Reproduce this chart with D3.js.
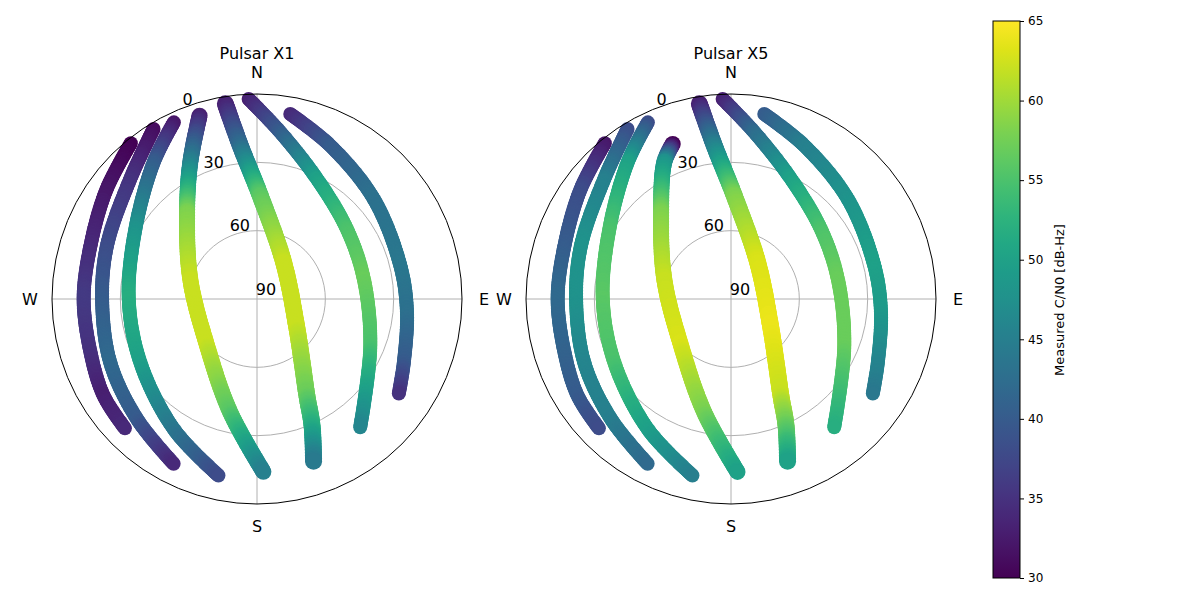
<!DOCTYPE html>
<html><head><meta charset="utf-8">
<script src="https://cdn.jsdelivr.net/npm/d3@7"></script>
<style>body{margin:0;background:#fff}svg{font-family:"DejaVu Sans",sans-serif}</style>
</head><body>
<svg id="chart" width="1200" height="600"></svg>
<script>
// track geometry: [azimuth deg, elevation deg]
var trackAzEl = [
  [[321,2],[306,8.3],[288,13.2],[270,13.9],[252,13.2],[237.8,10.4],[225.4,8.8]],
  [[328.7,2.6],[313.4,13.4],[289.6,20.1],[270,22],[246.7,19.8],[225,15.5],[206.8,8.9]],
  [[334.8,4.3],[322.9,14.8],[299.9,28.4],[270,33.7],[241.5,31.7],[212.6,22.2],[192.2,10.6]],
  [[342.6,5.7],[334,23.2],[321.1,41.1],[286.7,59.4],[227,60],[193.3,38.9],[177.8,13.9]],
  [[350.8,3.2],[353.8,22.3],[1.8,44.6],[36,70.1],[126.9,68],[152.7,42.2],[156.5,29.4],[160.9,14.1]],
  [[357.6,2.1],[8,16.1],[26.6,31.1],[52.1,40],[79.4,42.3],[112.4,36.2],[141.2,17.7]],
  [[10.2,7.5],[25.6,15.4],[49.4,22.5],[76.9,25.4],[95.1,23.9],[113.3,19.8],[123.8,15.1]]
];
// X5 track 4 rises later
var x5Track4 = [[339.4,17.3],[334,23.2],[321.1,41.1],[286.7,59.4],[227,60],[193.3,38.9],[177.8,13.9]];
// marker radius per track (overlapping passes look thicker)
var trackWidth = [7, 7, 7, 8, 8.5, 7, 7];

var cn0X1 = [
  [30,32,34,36,35,33,34],
  [31,35,38,40,42,40,34],
  [32,40,48,52,50,44,38],
  [33,45,58,62,62,56,45],
  [33,42,56,62,62,57,52,44],
  [33,40,50,55,57,55,46],
  [34,40,43,44,43,40,35]
];
var cn0X5 = [
  [32,38,40,42,41,40,38],
  [38,45,48,48,46,45,42],
  [38,50,55,56,55,50,45],
  [30,48,58,62,63,58,50],
  [33,45,58,63,64,62,57,50],
  [33,42,50,55,57,57,52],
  [40,45,48,50,49,46,44]
];
var titles = ["Pulsar X1", "Pulsar X5"];
var elevTicks = [0, 30, 60, 90];
var dirs = [["N",0],["E",90],["S",180],["W",270]];
var cbTicks = [30,35,40,45,50,55,60,65];

var svg = d3.select("#chart");
var R = 205;
var r = d3.scaleLinear().domain([90, 0]).range([0, R]);
var color = d3.scaleSequential(d3.interpolateViridis).domain([30, 65]);

function xy(az, el) {
  var a = az * Math.PI / 180;
  return [r(el) * Math.sin(a), -r(el) * Math.cos(a)];
}

function drawPolar(cx, title, tracks, cn0) {
  var g = svg.append("g").attr("transform", "translate(" + cx + ",299)");
  [30, 60].forEach(function(e) {
    g.append("circle").attr("r", r(e)).attr("fill", "none").attr("stroke", "#b0b0b0").attr("stroke-width", 1);
  });
  g.append("line").attr("x1", -R).attr("x2", R).attr("stroke", "#b0b0b0");
  g.append("line").attr("y1", -R).attr("y2", R).attr("stroke", "#b0b0b0");

  var line = d3.line().curve(d3.curveCatmullRom.alpha(0.5));
  tracks.forEach(function(t, i) {
    var pts = t.map(function(d) { return xy(d[0], d[1]); });
    var p = g.append("path").attr("d", line(pts)).attr("fill", "none").attr("stroke", "none");
    var node = p.node(), L = node.getTotalLength();
    var lens = [0];
    for (var k = 1; k < pts.length; k++) {
      lens.push(lens[k-1] + Math.hypot(pts[k][0]-pts[k-1][0], pts[k][1]-pts[k-1][1]));
    }
    var total = lens[lens.length-1];
    var cs = d3.scaleLinear().domain(lens.map(function(l){ return l / total * L; })).range(cn0[i]);
    for (var s = 0; s <= L; s += 1.5) {
      var pt = node.getPointAtLength(s);
      g.append("circle").attr("cx", pt.x).attr("cy", pt.y).attr("r", trackWidth[i])
        .attr("fill", color(cs(s)));
    }
  });

  g.append("circle").attr("r", R).attr("fill", "none").attr("stroke", "#000").attr("stroke-width", 1);

  elevTicks.forEach(function(e) {
    var p = xy(-22.5, e);
    g.append("text").attr("x", p[0] + 9).attr("y", p[1] - 10).attr("text-anchor", "middle")
      .attr("dominant-baseline", "central").attr("font-size", 16).text(e);
  });
  dirs.forEach(function(d) {
    var a = d[1] * Math.PI / 180, rr = R + 22;
    g.append("text").attr("x", rr * Math.sin(a)).attr("y", -rr * Math.cos(a))
      .attr("text-anchor", "middle").attr("dominant-baseline", "central").attr("font-size", 16).text(d[0]);
  });
  g.append("text").attr("y", -246).attr("text-anchor", "middle").attr("dominant-baseline", "central")
    .attr("font-size", 16).text(title);
}

drawPolar(257, titles[0], trackAzEl, cn0X1);
var t5 = trackAzEl.slice(); t5[3] = x5Track4;
drawPolar(731, titles[1], t5, cn0X5);

// colorbar
var cbY = d3.scaleLinear().domain([30, 65]).range([578, 21]);
var defs = svg.append("defs");
var grad = defs.append("linearGradient").attr("id", "cb").attr("x1", 0).attr("y1", 1).attr("x2", 0).attr("y2", 0);
d3.range(0, 1.0001, 0.05).forEach(function(t) {
  grad.append("stop").attr("offset", t).attr("stop-color", d3.interpolateViridis(t));
});
svg.append("rect").attr("x", 993).attr("y", 21).attr("width", 27).attr("height", 557)
  .attr("fill", "url(#cb)").attr("stroke", "#000").attr("stroke-width", 1);
var ax = svg.append("g").attr("transform", "translate(1020,0)")
  .call(d3.axisRight(cbY).tickValues(cbTicks).tickSize(4).tickPadding(4));
ax.select(".domain").remove();
ax.selectAll("text").attr("font-size", 12).attr("font-family", "DejaVu Sans");
svg.append("text").attr("transform", "translate(1059,300) rotate(-90)").attr("text-anchor", "middle")
  .attr("dominant-baseline", "central").attr("font-size", 13).text("Measured C/N0 [dB-Hz]");
</script>
</body></html>
